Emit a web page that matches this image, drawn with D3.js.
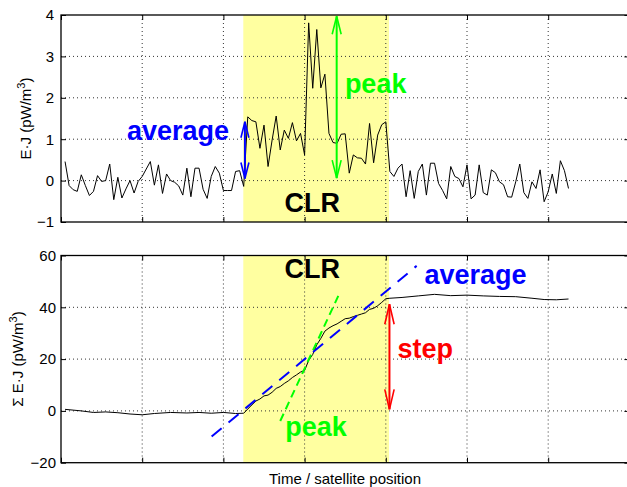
<!DOCTYPE html>
<html><head><meta charset="utf-8">
<script src="https://cdn.jsdelivr.net/npm/d3@7/dist/d3.min.js"></script>
<style>
body{margin:0;background:#fff}
text{font-family:"Liberation Sans",Arial,Helvetica,sans-serif}
</style>
</head><body>
<svg id="chart" width="627" height="487"></svg>
<script>
// ---------- DATA ----------
// E·J samples (pW/m^3), one per time step starting at t = 1
const ejValues = [
  0.46,-0.12,-0.22,-0.26,0.14,-0.12,-0.36,-0.26,0.12,-0.02,
  0.00,0.40,-0.46,0.08,-0.42,-0.20,0.00,-0.30,-0.02,0.10,
  0.28,0.46,-0.11,0.38,-0.31,0.16,0.00,-0.04,-0.13,-0.35,
  0.30,-0.39,0.30,0.30,-0.21,-0.43,0.10,0.34,0.18,-0.24,
  -0.24,-0.24,0.22,0.24,-0.14,
  1.54,1.45,1.42,0.78,1.34,0.34,0.98,1.56,0.74,1.22,
  1.02,1.40,0.96,1.14,0.62,3.81,2.23,3.65,2.24,2.57,
  1.14,0.92,0.90,1.12,1.13,0.18,0.62,0.55,0.54,0.40,
  1.38,0.43,1.10,1.35,1.42,
  0.22,0.10,0.30,0.40,-0.39,0.24,-0.43,0.22,0.40,-0.35,
  0.42,0.42,-0.07,-0.24,-0.44,0.34,0.10,0.05,-0.15,0.38,
  -0.44,-0.35,0.38,-0.29,-0.35,0.26,0.19,-0.03,-0.10,-0.39,
  -0.40,-0.03,0.40,-0.29,-0.43,-0.03,-0.19,0.26,-0.51,-0.27,
  0.16,-0.31,0.48,0.24,-0.19
];
// Σ E·J curve: time and value
const sumTimes = [1,3,5,8,11,14,17,20,23,27,31,34,37,40,43,45,
  46,47,48,49,50,51,52,53,54,55,56,57,58,59,60,61,62,63,64,65,
  66,67,68,69,70,71,72,73,74,75,76,77,78,79,80,81,
  84,88,92,96,100,104,108,112,116,119,122,125];
const sumValues = [0.6,0.3,0.0,-0.6,-0.4,-0.7,-1.2,-1.5,-1.0,-0.6,-0.8,-0.6,-0.9,-0.6,-1.0,-0.9,
  0.7,2.3,3.8,4.6,5.8,6.1,7.2,8.7,9.4,10.6,11.6,12.9,13.9,15.0,15.6,19.5,21.8,25.5,28.0,30.8,
  32.0,32.9,33.6,34.6,35.6,35.8,36.4,36.9,37.4,37.9,39.2,39.6,40.6,41.9,43.3,43.5,
  43.8,44.4,45.0,44.5,44.7,44.4,44.2,44.1,43.5,43.0,42.9,43.2];
// CLR interval (time)
const clrSpan = [44.9, 80.8];
// axis ticks
const xTicks = [0,20,40,60,80,100,120,140];
const topYTicks = [-1,0,1,2,3,4];
const botYTicks = [-20,0,20,40,60];
// fit lines in lower panel: [t0,v0,t1,v1]
const avgLine = [37.1,-9.9,87.6,56.0];
const peakLine = [54.0,-3.9,68.3,44.4];
// double arrows: [t, vFrom, vTo]
const avgArrow = [45.3,0.05,1.42];
const peakArrow = [67.9,0.06,3.97];
const stepArrow = [80.9,0.6,41.2];

// ---------- LAYOUT ----------
const svg = d3.select("#chart");
const x = d3.scaleLinear().domain([0,140]).range([61,629.4]);
const panels = [
  {y: d3.scaleLinear().domain([-1,4]).range([222,15]), ticks: topYTicks},
  {y: d3.scaleLinear().domain([-20,60]).range([462.7,255.5]), ticks: botYTicks}
];
const FONT = '"Liberation Sans",Arial,Helvetica,sans-serif';
const fmt = d3.format("d");

function arrow(g, x1, y1, x2, y2, color, hl, hw) {
  g.append("line").attr("x1",x1).attr("y1",y1).attr("x2",x2).attr("y2",y2)
    .attr("stroke",color).attr("stroke-width",2);
  const dx = x2-x1, dy = y2-y1, L = Math.hypot(dx,dy);
  const ux = dx/L, uy = dy/L, px = -uy, py = ux;
  [[x1,y1,1],[x2,y2,-1]].forEach(([tx,ty,s]) => {
    const bx = tx + s*ux*hl, by = ty + s*uy*hl;
    g.append("path")
      .attr("d",`M${bx+px*hw},${by+py*hw}L${tx},${ty}L${bx-px*hw},${by-py*hw}`)
      .attr("fill","none").attr("stroke",color).attr("stroke-width",1.6);
  });
}

panels.forEach((p, k) => {
  const g = svg.append("g");
  const [y0, y1] = p.y.range();
  g.append("rect").attr("x", x(clrSpan[0])).attr("y", y1)
    .attr("width", x(clrSpan[1]) - x(clrSpan[0])).attr("height", y0 - y1)
    .attr("fill", "#ffffa0");
  g.selectAll(".gx").data(xTicks.slice(1,-1)).join("line")
    .attr("x1", d => x(d)).attr("x2", d => x(d)).attr("y1", y1).attr("y2", y0)
    .attr("stroke","#333").attr("stroke-width",1).attr("stroke-dasharray","1,3");
  g.selectAll(".gy").data(p.ticks.slice(1,-1)).join("line")
    .attr("x1", x.range()[0]).attr("x2", x.range()[1]).attr("y1", d => p.y(d)).attr("y2", d => p.y(d))
    .attr("stroke","#333").attr("stroke-width",1).attr("stroke-dasharray","1,3");
  const axL = g.append("g").attr("transform",`translate(${x.range()[0]},0)`)
    .call(d3.axisLeft(p.y).tickValues(p.ticks).tickFormat(fmt).tickSize(-5).tickSizeOuter(0).tickPadding(k===0?7:5));
  const axR = g.append("g").attr("transform",`translate(${x.range()[1]},0)`)
    .call(d3.axisRight(p.y).tickValues(p.ticks).tickSize(-5).tickSizeOuter(0).tickFormat(""));
  const axB = g.append("g").attr("transform",`translate(0,${y0})`)
    .call(d3.axisBottom(x).tickValues(xTicks).tickSize(-5).tickSizeOuter(0).tickFormat(""));
  const axT = g.append("g").attr("transform",`translate(0,${y1})`)
    .call(d3.axisTop(x).tickValues(xTicks).tickSize(-5).tickSizeOuter(0).tickFormat(""));
  [axL,axR,axB,axT].forEach(a => {
    a.select(".domain").remove();
    a.selectAll("line").attr("stroke","#000");
    a.selectAll("text").attr("font-size",15).attr("font-family",FONT).attr("fill","#000");
  });
  p.g = g;
});

panels.forEach(p => {
  const [y0,y1] = p.y.range();
  svg.append("rect").attr("x", x.range()[0]).attr("y", y1)
    .attr("width", x.range()[1]-x.range()[0]).attr("height", y0-y1)
    .attr("fill","none").attr("stroke","#000").attr("stroke-width",1.3);
});

// ----- top panel -----
const yT = panels[0].y, gT = panels[0].g;
gT.append("path").datum(ejValues)
  .attr("d", d3.line().x((d,i) => x(i+1)).y(d => yT(d)))
  .attr("fill","none").attr("stroke","#000").attr("stroke-width",1);
arrow(gT, x(avgArrow[0]), yT(avgArrow[1]), x(avgArrow[0]), yT(avgArrow[2]), "#0000ff", 16, 4);
arrow(gT, x(peakArrow[0]), yT(peakArrow[1]), x(peakArrow[0]), yT(peakArrow[2]), "#00ff00", 18, 4.5);
const big = (g, tx, ty, txt, col) => g.append("text").attr("x",tx).attr("y",ty)
  .attr("text-anchor","middle").attr("font-size",27).attr("font-weight","bold")
  .attr("font-family",FONT).attr("fill",col).text(txt);
big(gT, x(28.8), yT(0.98), "average", "#0000ff");
big(gT, x(77.5), yT(2.11), "peak", "#00ff00");
big(gT, x(61.9), yT(-0.75), "CLR", "#000");

// ----- bottom panel -----
const yB = panels[1].y, gB = panels[1].g;
const sumPts = sumTimes.map((t,i) => [t, sumValues[i]]);
gB.append("path").datum(sumPts)
  .attr("d", d3.line().x(d => x(d[0])).y(d => yB(d[1])))
  .attr("fill","none").attr("stroke","#000").attr("stroke-width",1);
gB.append("line").attr("x1",x(peakLine[0])).attr("y1",yB(peakLine[1]))
  .attr("x2",x(peakLine[2])).attr("y2",yB(peakLine[3]))
  .attr("stroke","#00ff00").attr("stroke-width",2).attr("stroke-dasharray","8,5");
gB.append("line").attr("x1",x(avgLine[0])).attr("y1",yB(avgLine[1]))
  .attr("x2",x(avgLine[2])).attr("y2",yB(avgLine[3]))
  .attr("stroke","#0000ff").attr("stroke-width",2).attr("stroke-dasharray","13,9");
arrow(gB, x(stepArrow[0]), yB(stepArrow[1]), x(stepArrow[0]), yB(stepArrow[2]), "#ff0000", 20, 4.7);
big(gB, x(61.9), yB(51.5), "CLR", "#000");
big(gB, x(102.1), yB(49.0), "average", "#0000ff");
big(gB, x(89.7), yB(20.6), "step", "#ff0000");
big(gB, x(62.8), yB(-9.7), "peak", "#00ff00");

// ----- axis titles -----
function yTitle(tx, ty, pre) {
  const t = svg.append("text").attr("transform",`translate(${tx},${ty}) rotate(-90)`)
    .attr("text-anchor","middle").attr("font-size",15).attr("font-family",FONT).attr("fill","#000");
  t.append("tspan").text(pre + "E\u00B7J (pW/m");
  t.append("tspan").attr("dy",-6).attr("font-size",11).text("3");
  t.append("tspan").attr("dy",6).text(")");
}
yTitle(30.5, 118.5, "");
yTitle(22.7, 359, "\u03A3 ");
svg.append("text").attr("x",345).attr("y",483.5).attr("text-anchor","middle")
  .attr("font-size",15).attr("font-family",FONT).attr("fill","#000").text("Time / satellite position");
</script>
</body></html>
